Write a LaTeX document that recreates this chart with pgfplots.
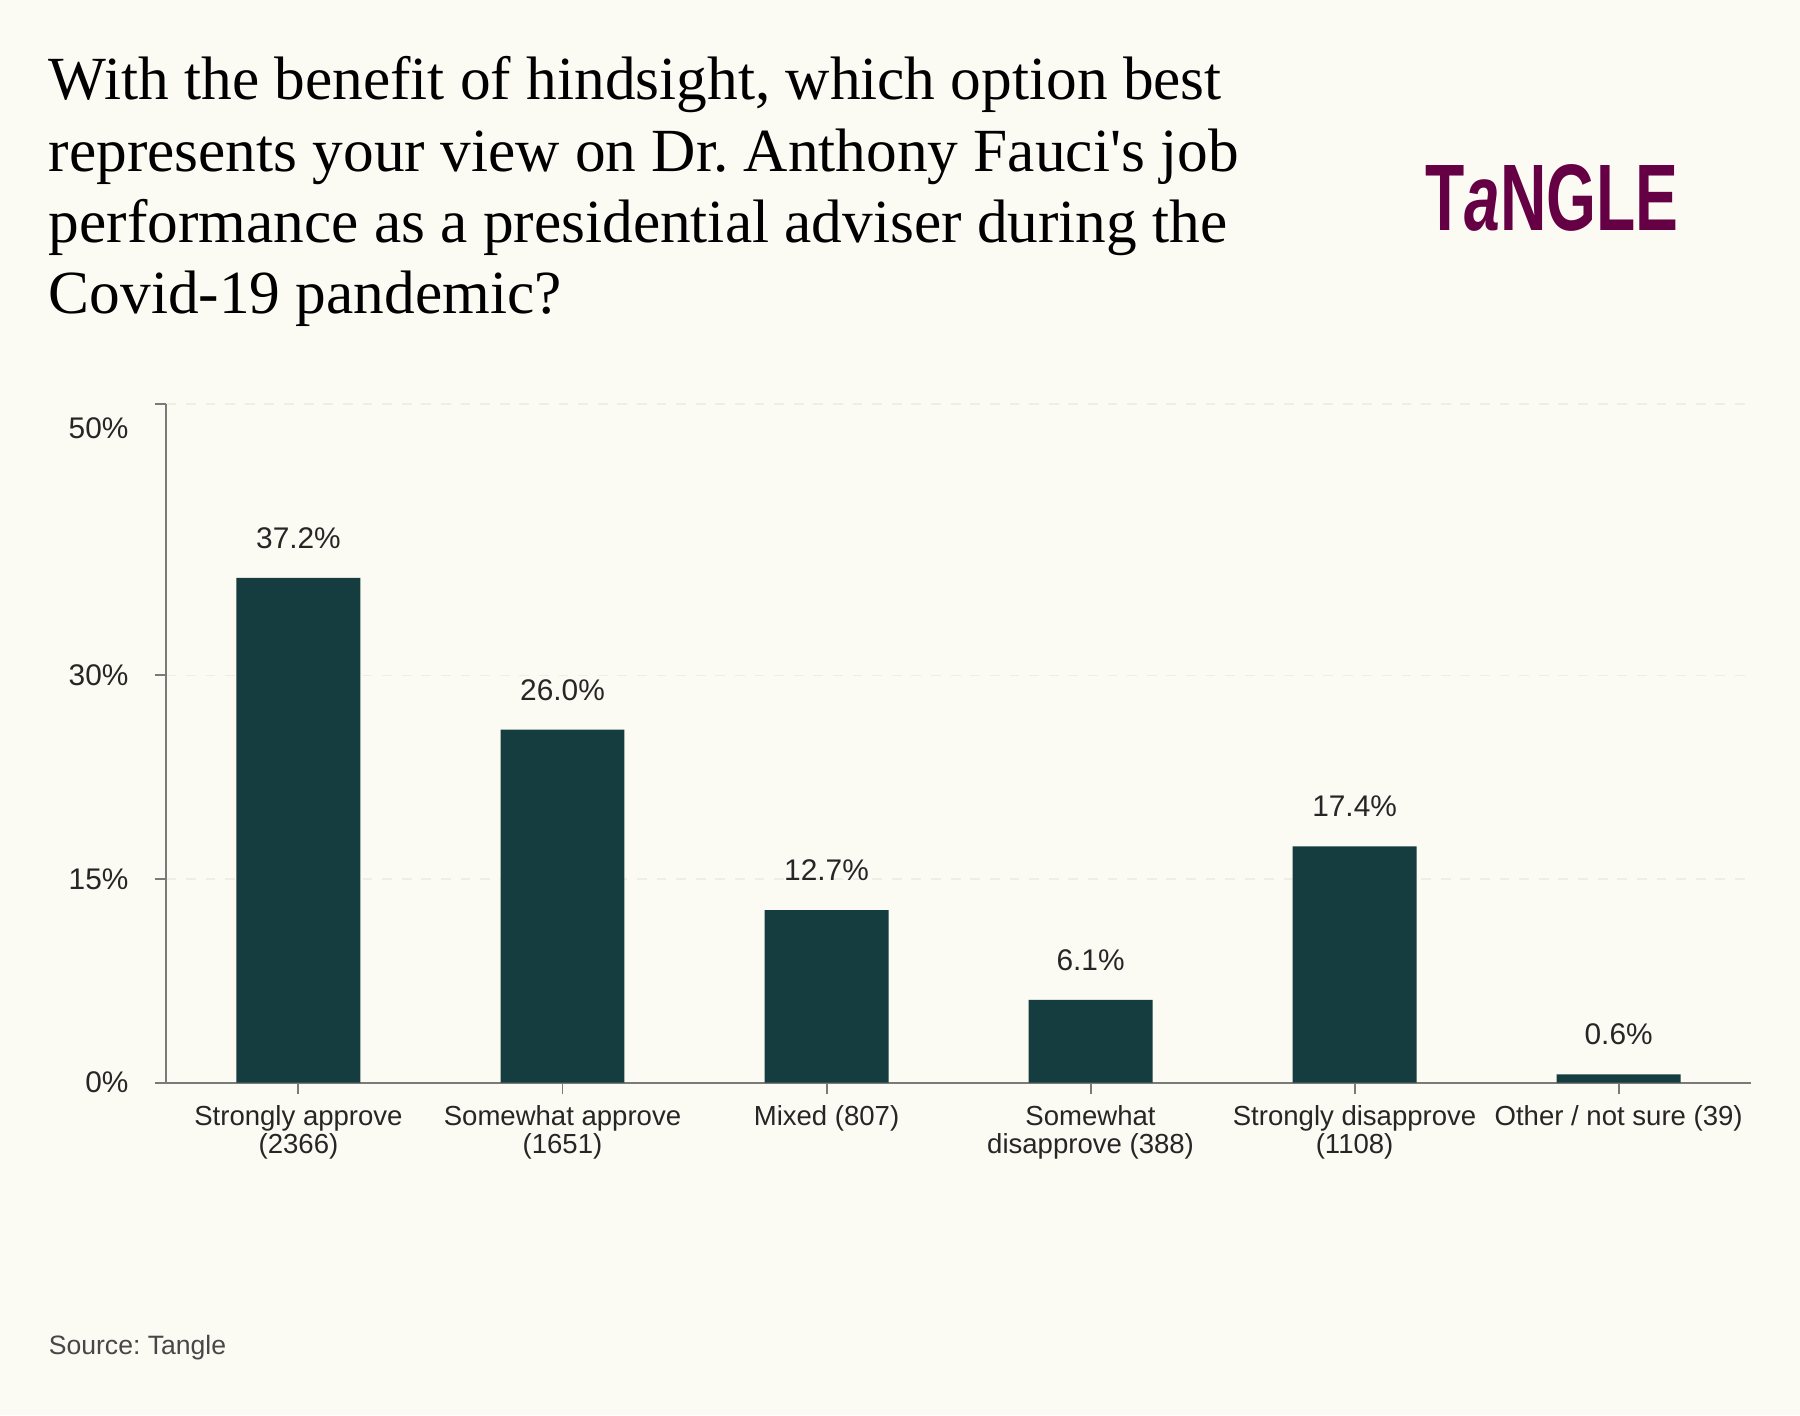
\documentclass[border=0pt]{standalone}
\usepackage{fontspec}
\setmainfont{Liberation Sans}
\newfontfamily\titlefont{Liberation Serif}
\usepackage{pgfplots}
\pgfplotsset{compat=1.18}
\definecolor{bgcol}{HTML}{FBFAF3}
\definecolor{barcol}{HTML}{153C3F}
\definecolor{txt}{HTML}{262626}
\definecolor{axcol}{HTML}{7A7A7A}
\definecolor{gridcol}{HTML}{EEEEE6}
\definecolor{logocol}{HTML}{660044}
\begin{document}
\frenchspacing
\begin{tikzpicture}
\fill[bgcol] (0,0) rectangle (548.8bp,431.55bp);
% title
\begin{scope}[every node/.style={anchor=base west, inner sep=0pt, font=\titlefont\fontsize{18.7bp}{21bp}\selectfont, text=black}]
\node at (14.7bp,401.1bp) {With the benefit of hindsight, which option best};
\node at (14.7bp,379.4bp) {represents your view on Dr. Anthony Fauci's job};
\node at (14.7bp,357.7bp) {performance as a presidential adviser during the};
\node at (14.7bp,336.0bp) {Covid-19 pandemic?};
\end{scope}
% logo
\node[anchor=base west, inner sep=0pt, text=logocol, font=\bfseries\fontsize{28.8bp}{30bp}\selectfont] at (434.35bp,361.2bp) {\scalebox{0.68}[1]{T\textit{a}NGLE}};
% source
\node[anchor=base west, inner sep=0pt, text=txt!85!white, font=\fontsize{8.1bp}{9bp}\selectfont] at (14.7bp,18.55bp) {Source: Tangle};
\begin{axis}[
  at={(50.75bp,101.5bp)}, anchor=south west,
  scale only axis, width=483bp, height=206.85bp,
  xmin=-0.5, xmax=5.5, ymin=0, ymax=50,
  axis x line*=bottom, axis y line*=left,
  axis line style={draw=axcol, line width=0.6bp, -},
  tick align=outside, major tick length=3.5bp,
  tick style={draw=axcol, line width=0.6bp},
  /pgf/number format/assume math mode=true,
  xtick={0,1,2,3,4,5},
  xticklabels={Strongly approve\\(2366), Somewhat approve\\(1651), Mixed (807), Somewhat\\disapprove (388), Strongly disapprove\\(1108), Other / not sure (39)},
  xticklabel style={align=center, text=txt, inner sep=0pt, yshift=-3.2bp, font=\fontsize{8.4bp}{8.8bp}\selectfont},
  ytick={0,15,30,50},
  yticklabels={0\%,15\%,30\%,{}},
  yticklabel style={text=txt, inner sep=0pt, xshift=-7.9bp, font=\fontsize{9.1bp}{10bp}\selectfont},
  ymajorgrids, grid style={draw=gridcol, dashed, line width=0.5bp},
  ybar, bar width=37.8bp,
  nodes near coords={\pgfmathprintnumber[fixed,fixed zerofill,precision=1,assume math mode=true]{\pgfplotspointmeta}\%},
  nodes near coords style={anchor=south, inner sep=0pt, yshift=8.75bp, text=txt, font=\fontsize{9.1bp}{10bp}\selectfont},
  clip=false,
]
\addplot[fill=barcol, draw=none] coordinates {(0,37.2) (1,26.0) (2,12.7) (3,6.1) (4,17.4) (5,0.6)};
\node[anchor=base east, inner sep=0pt, text=txt, font=\fontsize{9.1bp}{10bp}\selectfont] at (rel axis cs:0,1) [xshift=-11.4bp, yshift=-10.5bp] {50\%};
\end{axis}
\end{tikzpicture}
\end{document}
